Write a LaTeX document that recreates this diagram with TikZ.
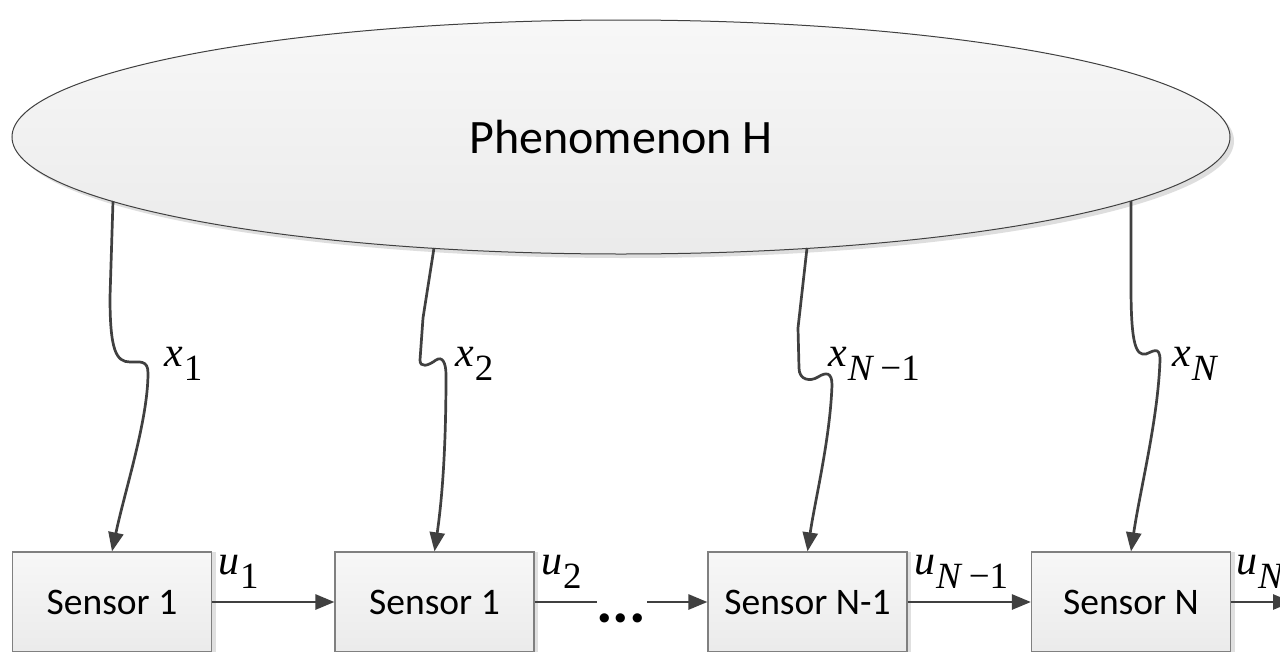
\documentclass[tikz,border=0pt]{standalone}
\usepackage{fontspec}
\setmainfont{Carlito}
\newfontfamily\tms{Liberation Serif}
\usetikzlibrary{shapes.geometric,shadows,arrows.meta}
\definecolor{wirec}{HTML}{404040}
\definecolor{boxline}{HTML}{808080}
\newcommand\mlab[2]{{\tms\fontsize{42}{42}\selectfont\itshape #1}\kern1pt\raisebox{-14pt}{\tms\fontsize{37}{37}\selectfont #2}}
\tikzset{
  wire/.style={draw=wirec, line width=2.7pt, -{Triangle[length=19pt,width=15pt]}},
  plain/.style={draw=wirec, line width=2.7pt},
  sensorbox/.style={draw=boxline, line width=1.2pt, rectangle, minimum width=199pt, minimum height=100pt, inner sep=0pt,
     top color=white!97!black, bottom color=white!92!black,
     drop shadow={shadow xshift=4pt, shadow yshift=0pt, fill=black!12, opacity=1},
     font=\fontsize{37.5}{37.5}\selectfont},
  phen/.style={draw=wirec, line width=1pt, ellipse, minimum width=1218pt, minimum height=234pt, inner sep=0pt,
     top color=white!97!black, bottom color=white!92!black,
     drop shadow={shadow xshift=4pt, shadow yshift=-4pt, fill=black!13, opacity=1},
     font=\fontsize{48}{48}\selectfont},
  mathlab/.style={anchor=base west, inner sep=0pt}
}
\begin{document}
\begin{tikzpicture}[x=1pt,y=-1pt]
\useasboundingbox (0,0) rectangle (1280,651);
\fill[white] (0,0) rectangle (1280,651);
\node[phen] (ph) at (621,137) {Phenomenon H};
\node[sensorbox] (b1) at (112,602) {Sensor 1};
\node[sensorbox] (b2) at (434.5,602) {Sensor 1};
\node[sensorbox] (b3) at (807.5,602) {Sensor N-1};
\node[sensorbox] (b4) at (1131,602) {Sensor N};
\coordinate (s1) at (113,201);
\coordinate (s2) at (434,248);
\coordinate (s3) at (807,248);
\coordinate (s4) at (1131,201);
\coordinate (out) at (1292,602);
% lightning connectors
\draw[wire] (s1) -- (110,297) .. controls (110,350) and (116,362) .. (130,362) .. controls (140,362) and (148,360) .. (148,373) .. controls (148,420) and (125,490) .. (b1.north);
\draw[wire] (s2) -- (423,318) -- (420,360) .. controls (420,368) and (428,366) .. (436,360) .. controls (442,356) and (446,362) .. (446,375) .. controls (446,450) and (442,500) .. (b2.north);
\draw[wire] (s3) -- (798,328) -- (799,368) .. controls (799,380) and (810,382) .. (818,377) .. controls (826,372) and (832,372) .. (832,385) .. controls (830,440) and (815,500) .. (b3.north);
\draw[wire] (s4) -- (1131,287) .. controls (1131,345) and (1136,356) .. (1146,354) .. controls (1152,352) and (1160,345) .. (1160,360) .. controls (1158,420) and (1140,490) .. (b4.north);
% labels on lightning
\node[mathlab] (lx1) at (164,366) {\mlab{x}{1}};
\node[mathlab] (lx2) at (455,366) {\mlab{x}{2}};
\node[mathlab] (lx3) at (828,366) {\mlab{x}{\textit{N}\,−1}};
\node[mathlab] (lx4) at (1172,366) {\mlab{x}{\textit{N}}};
% dots
\node[inner sep=0pt, minimum width=50pt, anchor=base, font=\bfseries\fontsize{62}{62}\selectfont] (dots) at (621,622) {...};
% horizontal connectors
\draw[wire] (b1.east) -- (b2.west);
\draw[plain] (b2.east) -- (597,602);
\draw[wire] (647,602) -- (b3.west);
\draw[wire] (b3.east) -- (b4.west);
\draw[wire] (b4.east) -- (out);
% u labels
\node[mathlab] (lu1) at (218,574) {\mlab{u}{1}};
\node[mathlab] (lu2) at (541,574) {\mlab{u}{2}};
\node[mathlab] (lu3) at (914,574) {\mlab{u}{\textit{N}\,−1}};
\node[mathlab] (lu4) at (1236,574) {\mlab{u}{\textit{N}}};
\end{tikzpicture}
\end{document}
